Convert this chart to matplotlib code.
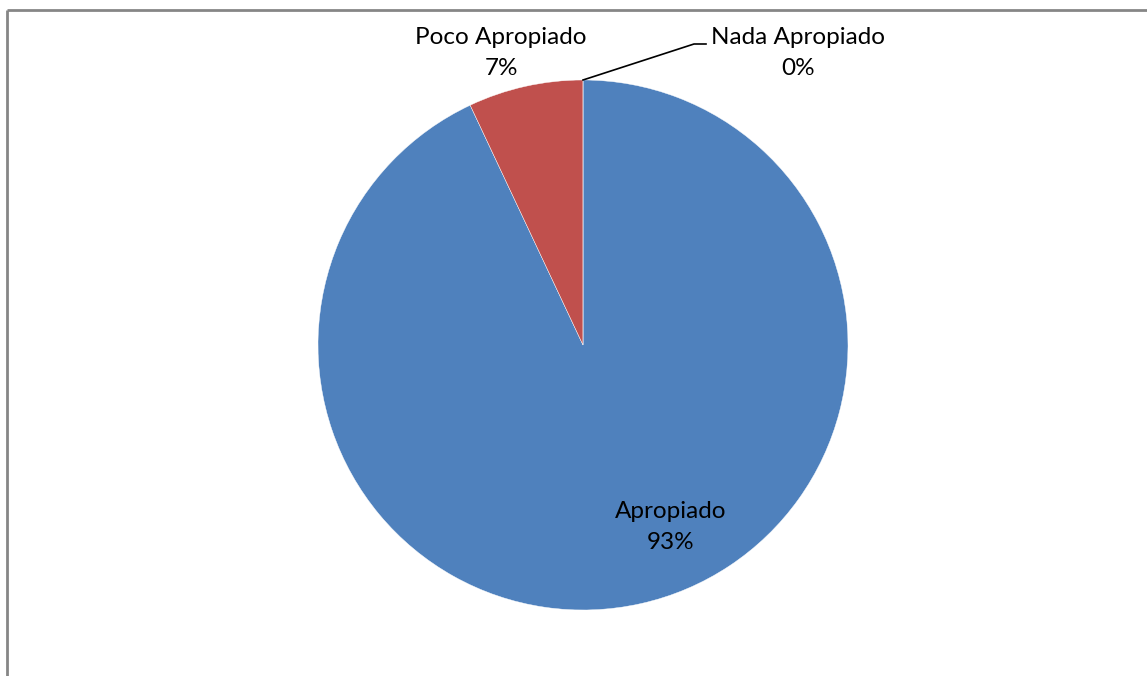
import matplotlib.pyplot as plt
from matplotlib.lines import Line2D

categorias = ["Apropiado", "Poco Apropiado", "Nada Apropiado"]
valores = [93, 7, 0]
etiquetas = ["93%", "7%", "0%"]
colores = ["#4F81BD", "#C0504D", "#9BBB59"]

W, H = 1147, 676
fig = plt.figure(figsize=(W / 100, H / 100), dpi=100)
ax = fig.add_axes([0, 0, 1, 1])

# pie centred at (583, 345) in pixel coords, y measured from top
cx, cy, r = 583, H - 345, 265
ax.pie(valores, colors=colores, startangle=90, counterclock=False,
       center=(cx, cy), radius=r, frame=True,
       wedgeprops=dict(edgecolor="white", linewidth=0.3))
ax.set_xlim(0, W)
ax.set_ylim(0, H)
ax.set_aspect("equal")
ax.axis("off")

fuente = dict(family="Lato", fontsize=17.5, color="black", ha="center",
              va="center", linespacing=1.6)
ax.text(671, H - 527, f"{categorias[0]}\n{etiquetas[0]}", **fuente)
ax.text(501, H - 53, f"{categorias[1]}\n{etiquetas[1]}", **fuente)
ax.text(798, H - 53, f"{categorias[2]}\n{etiquetas[2]}", **fuente)

# leader line for the zero slice
ax.plot([cx, 694, 706], [H - 80, H - 44, H - 44], color="black", lw=1.2)

# outer chart frame (only left and top edges visible)
borde = dict(transform=fig.transFigure, color="#868686", linewidth=2,
             solid_capstyle="butt")
fig.lines.append(Line2D([6.5 / W, 6.5 / W], [0, (H - 9.5) / H], **borde))
fig.lines.append(Line2D([6.5 / W, 1], [(H - 9.5) / H, (H - 9.5) / H], **borde))

fig.savefig("out.png", dpi=100)
